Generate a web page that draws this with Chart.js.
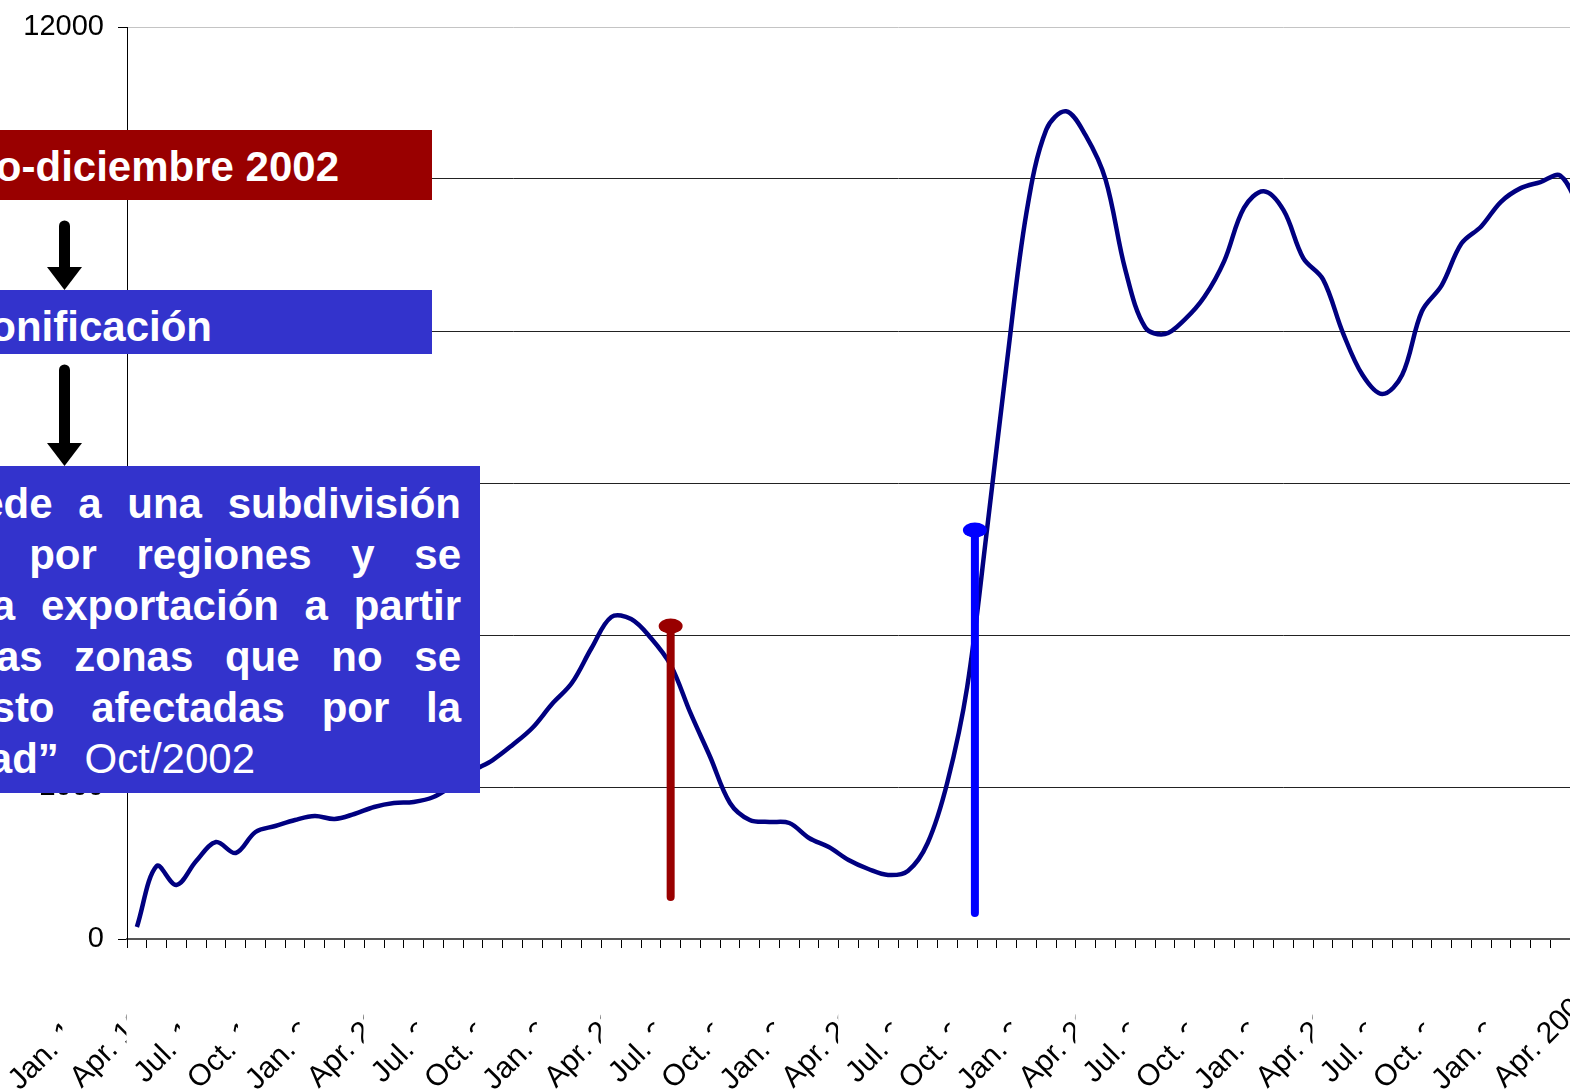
<!DOCTYPE html>
<html>
<head>
<meta charset="utf-8">
<script src="https://cdn.jsdelivr.net/npm/chart.js@4.4.1/dist/chart.umd.min.js"></script>
<style>
  body {
    margin: 0;
    width: 1570px;
    height: 1092px;
    overflow: hidden;
    position: relative;
    background: #fff;
    font-family: "Liberation Sans", Arial, sans-serif;
  }
  #chart {
    position: absolute;
    left: 0;
    top: 0;
  }
  .box {
    position: absolute;
    left: 0;
    overflow: hidden;
  }
  .box span {
    position: absolute;
    white-space: nowrap;
    color: #fff;
    font-size: 42px;
    line-height: 42px;
    font-weight: bold;
  }
  .box span.light {
    position: static;
    font-weight: normal;
  }
  svg {
    position: absolute;
    left: 0;
    top: 0;
  }
</style>
</head>
<body>
<canvas id="chart" width="1680" height="1150"></canvas>

<svg width="120" height="480">
  <line x1="64.5" y1="226" x2="64.5" y2="270" stroke="#000" stroke-width="11" stroke-linecap="round" />
  <polygon points="47,267 82,267 64.5,290" fill="#000" />
  <line x1="64.5" y1="370" x2="64.5" y2="446" stroke="#000" stroke-width="11" stroke-linecap="round" />
  <polygon points="47,443 82,443 64.5,466" fill="#000" />
</svg>

<div class="box" style="top:130px; width:432px; height:70px; background:#990000;">
  <span style="right:93px; top:16px;">Enero-diciembre 2002</span>
</div>

<div class="box" style="top:290px; width:432px; height:64px; background:#3333cc;">
  <span style="right:220px; top:16px;">Bonificación</span>
</div>

<div class="box" style="top:466px; width:480px; height:327px; background:#3333cc;">
  <span style="right:19px; top:17px; word-spacing:14px;">“Se procede a una subdivisión</span>
  <span style="right:19px; top:68px; word-spacing:28px;">del país por regiones y se</span>
  <span style="right:19px; top:119px; word-spacing:14px;">habilita la exportación a partir</span>
  <span style="right:19px; top:170px; word-spacing:20px;">de las zonas que no se</span>
  <span style="right:19px; top:221px; word-spacing:25px;">han visto afectadas por la</span>
  <span style="right:225px; top:272px; word-spacing:14px;">enfermedad” <span class="light">Oct/2002</span></span>
</div>

<script>
// x axis: one category per month, first one Jan. 1999
const firstYear = 1999;
const monthNames = ["Jan.", "Feb.", "Mar.", "Apr.", "May.", "Jun.", "Jul.", "Aug.", "Sep.", "Oct.", "Nov.", "Dec."];
const monthCount = 78;

const xTickLabels = [
  "Jan. 1999", "Apr. 1999", "Jul. 1999", "Oct. 1999",
  "Jan. 2000", "Apr. 2000", "Jul. 2000", "Oct. 2000",
  "Jan. 2001", "Apr. 2001", "Jul. 2001", "Oct. 2001",
  "Jan. 2002", "Apr. 2002", "Jul. 2002", "Oct. 2002",
  "Jan. 2003", "Apr. 2003", "Jul. 2003", "Oct. 2003",
  "Jan. 2004", "Apr. 2004", "Jul. 2004", "Oct. 2004",
  "Jan. 2005", "Apr. 2005"
];

const yTicks = [0, 2000, 4000, 6000, 8000, 10000, 12000];

// monthly values (last months fall outside the picture)
const monthlyValues = [
  158, 960, 711, 1026, 1276, 1132, 1408, 1487, 1566, 1618, 1579, 1645,
  1737, 1789, 1803, 1868, 2026, 2210, 2355, 2553, 2776, 3092, 3368, 3829,
  4237, 4210, 3960, 3605, 2974, 2395, 1790, 1566, 1540, 1526, 1329, 1210,
  1039, 921, 842, 895, 1263, 2066, 3316, 5382, 7570, 9560, 10650, 10892,
  10570, 9991, 8804, 8050, 7960, 8150, 8450, 8920, 9620, 9840, 9590, 8960,
  8680, 7980, 7420, 7170, 7420, 8260, 8600, 9150, 9376, 9700, 9880, 9960,
  10044, 9600, null, null, null, null
];

// vertical markers (category position, top and bottom value)
const eventPositions = [27, 42.39];
const eventTops = [4118, 5382];
const eventBottoms = [553, 342];
const eventColors = ["#990000", "#0000ff"];

const categories = [];
for (let i = 0; i < monthCount; i++) {
  categories.push(monthNames[i % 12] + " " + (firstYear + Math.floor(i / 12)));
}

const FONT = '"Liberation Sans", Arial, sans-serif';

// MARCADORES
const eventLines = {
  id: "eventLines",
  afterDatasetsDraw(chart) {
    const { ctx, scales: { x, y } } = chart;
    eventPositions.forEach((pos, i) => {
      const px = x.getPixelForValue(pos);
      const top = y.getPixelForValue(eventTops[i]);
      const bottom = y.getPixelForValue(eventBottoms[i]);
      ctx.save();
      ctx.strokeStyle = eventColors[i];
      ctx.fillStyle = eventColors[i];
      ctx.lineWidth = 8;
      ctx.lineCap = "round";
      ctx.beginPath();
      ctx.moveTo(px, top);
      ctx.lineTo(px, bottom);
      ctx.stroke();
      ctx.beginPath();
      ctx.ellipse(px, top, 12, 7.5, 0, 0, Math.PI * 2);
      ctx.fill();
      ctx.restore();
    });
  },
};

// ETIQUETAS EJE X (rotated, each one paints over the tail of the previous)
const xLabels = {
  id: "xLabels",
  afterDraw(chart) {
    const { ctx, scales: { x } } = chart;
    const size = 30;
    const c = Math.SQRT1_2;
    ctx.save();
    ctx.font = size + "px " + FONT;
    ctx.textAlign = "left";
    ctx.textBaseline = "alphabetic";
    xTickLabels.forEach((text, k) => {
      const month = text.split(" ")[0];
      const ax = x.getPixelForValue(k * 3) - 77;
      const ay = x.top + 112;
      const wm = ctx.measureText(month).width;
      const w = ctx.measureText(text).width;
      const sx = ax - c * wm;
      const sy = ay + c * wm;
      const asc = size * 0.9;
      const desc = size * 0.2;
      const ex = sx + c * w;
      const ey = sy - c * w;
      const xs = [sx - c * asc, sx + c * desc, ex - c * asc, ex + c * desc];
      const ys = [sy - c * asc, sy + c * desc, ey - c * asc, ey + c * desc];
      const left = Math.min(...xs);
      const right = Math.max(...xs);
      const topY = Math.min(...ys);
      const bottomY = Math.max(...ys);
      ctx.fillStyle = "#fff";
      ctx.fillRect(left, topY, right - left, bottomY - topY);
      ctx.fillStyle = "#000";
      ctx.save();
      ctx.translate(sx, sy);
      ctx.rotate(-Math.PI / 4);
      ctx.fillText(text, 0, 0);
      ctx.restore();
    });
    ctx.restore();
  },
};

new Chart(document.getElementById("chart"), {
  type: "line",
  data: {
    labels: categories,
    datasets: [
      {
        data: monthlyValues,
        borderColor: "#000080",
        borderWidth: 4.5,
        pointRadius: 0,
        tension: 0.35,
        fill: false,
      },
    ],
  },
  options: {
    responsive: false,
    animation: false,
    devicePixelRatio: 1,
    layout: {
      padding: { top: 27, right: 11, left: 0, bottom: 0 },
    },
    plugins: {
      legend: { display: false },
      tooltip: { enabled: false },
    },
    scales: {
      x: {
        offset: true,
        grid: {
          offset: true,
          drawOnChartArea: false,
          drawTicks: true,
          tickLength: 9,
          color: "#000",
        },
        border: { color: "#555", width: 2 },
        ticks: { display: false },
        afterFit: (scale) => {
          scale.height = 211;
        },
      },
      y: {
        min: 0,
        max: 12000,
        afterBuildTicks: (scale) => {
          scale.ticks = yTicks.map((v) => ({ value: v }));
        },
        ticks: {
          padding: 14,
          color: "#000",
          font: { family: FONT, size: 29 },
          callback: (v) => String(v),
        },
        grid: {
          color: (c) => (c.tick && c.tick.value === 12000 ? "#c4c4c4" : "#222"),
          tickColor: "#000",
          tickLength: 9,
        },
        border: { color: "#000", width: 1 },
        afterFit: (scale) => {
          scale.width = 127;
          scale.paddingTop = 0;
          scale.paddingBottom = 0;
        },
      },
    },
  },
  plugins: [eventLines, xLabels],
});
</script>
</body>
</html>
